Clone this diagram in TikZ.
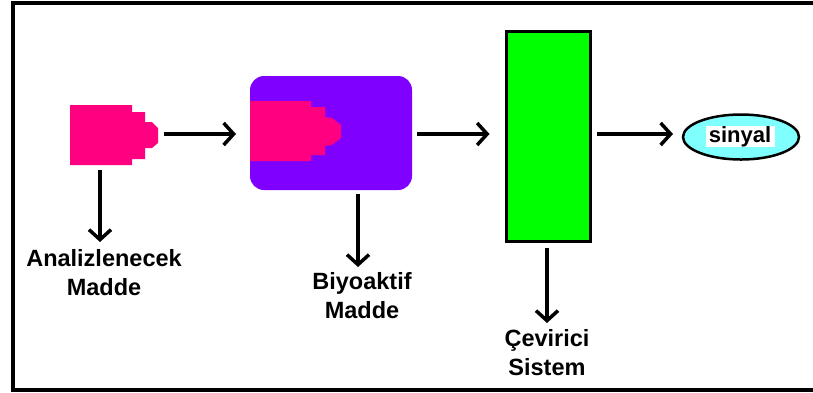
\documentclass[tikz,border=0pt]{standalone}
\usepackage{fontspec}
\setmainfont{Liberation Sans}
\usetikzlibrary{arrows.meta,shapes.geometric}
\definecolor{pinkc}{HTML}{FF0080}
\definecolor{purpc}{HTML}{8000FF}
\definecolor{greenc}{HTML}{00FF00}
\definecolor{cyanc}{HTML}{80FFFF}
\tikzset{
  arr/.style={line width=3.5pt,-{Straight Barb[length=10pt,width=22pt]}},
  lbl/.style={font=\fontsize{23.5}{29}\selectfont\bfseries,align=center,inner sep=0pt,anchor=north},
  ghost/.style={inner sep=0pt,outer sep=0pt}
}
\begin{document}
\begin{tikzpicture}[x=1pt,y=-1pt]
\useasboundingbox (0,0) rectangle (813,392);
\fill[white] (0,0) rectangle (813,392);
% frame (right edge cut off)
\draw[line width=4pt] (813,3) -- (13,3) -- (13,390) -- (813,390);

% analyte shape
\fill[pinkc] (70,105) -- (132,105) -- (132,112) -- (145,112) -- (145,122) -- (152,122)
  -- (158,128) -- (158,143) -- (152,148) -- (145,148) -- (145,159) -- (132,159)
  -- (132,165) -- (70,165) -- cycle;
\node[ghost,minimum width=62pt,minimum height=60pt] (an) at (100,135) {};
\node[ghost,minimum width=0pt,minimum height=60pt] (antip) at (158,135) {};

% bioactive box
\node[ghost,fill=purpc,rounded corners=14pt,minimum width=162pt,minimum height=114pt] (bio) at (331,133) {};
\fill[pinkc] (250,101) -- (311,101) -- (311,107) -- (325,107) -- (325,117) -- (332,118)
  -- (341,125) -- (341,138) -- (332,145) -- (325,146) -- (325,155) -- (311,155)
  -- (311,161) -- (250,161) -- cycle;

% transducer
\node[ghost,draw=black,line width=3.5pt,fill=greenc,minimum width=84pt,minimum height=210pt] (tr) at (548.5,136.5) {};

% signal
\node[ghost,draw=black,line width=2.5pt,fill=cyanc,ellipse,minimum width=116pt,minimum height=45pt] (sig) at (741,137) {};
\node[ghost,fill=white,minimum width=69pt,minimum height=21pt,font=\fontsize{22}{26}\selectfont\bfseries] (sigt) at (740,136.5) {sinyal};

% labels
\node[lbl] (l1) at (104,249) {Analizlenecek\\Madde};
\node[lbl] (l2) at (362,272) {Biyoaktif\\Madde};
\node[lbl] (l3) at (547,329) {Çevirici\\Sistem};

% horizontal arrows
\draw[arr,shorten <=6pt,shorten >=14pt] (antip.east |- 0,134) -- (bio.west |- 0,134);
\draw[arr,shorten <=5pt,shorten >=17pt] (bio.east |- 0,134) -- (tr.west |- 0,134);
\draw[arr,shorten <=6pt,shorten >=10pt] (tr.east |- 0,134) -- (sig.west |- 0,134);

% vertical arrows
\draw[arr,shorten <=5pt,shorten >=7pt] (an.south) -- (an.south |- l1.north);
\draw[arr,shorten <=4pt,shorten >=5pt] (bio.south -| 358,0) -- (l2.north -| 358,0);
\draw[arr,shorten <=6pt,shorten >=6pt] (tr.south -| l3.north) -- (l3.north);
\end{tikzpicture}
\end{document}
